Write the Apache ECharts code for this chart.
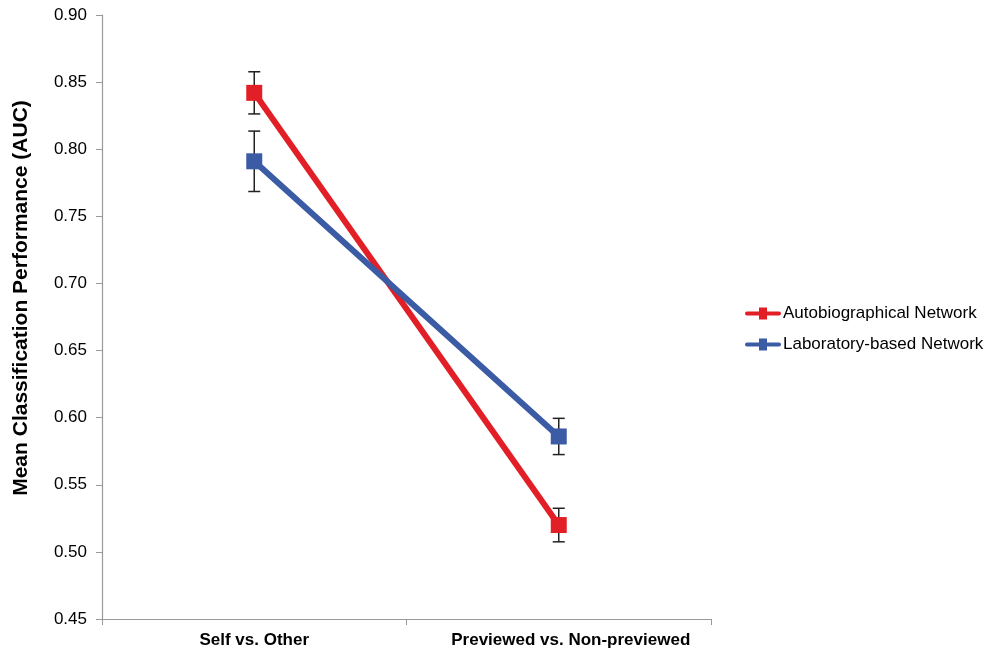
<!DOCTYPE html>
<html><head><meta charset="utf-8">
<script src="https://cdn.jsdelivr.net/npm/echarts@6/dist/echarts.min.js"></script>
<style>html,body{margin:0;padding:0;background:#fff}#c{width:990px;height:652px}</style>
</head><body><div id="c"></div>
<script>
const categories = ['Self vs. Other', 'Previewed vs. Non-previewed'];
const autoValues = [0.842, 0.520];
const autoErr = [0.0157, 0.0125];
const labValues = [0.791, 0.586];
const labErr = [0.0225, 0.0135];
const yTicks = [0.45, 0.90, 0.05];

const chart = echarts.init(document.getElementById('c'));
const font = '"Liberation Sans", Arial, Helvetica, sans-serif';
const RED = '#e21f26', BLUE = '#3b5ba5';
function errSeries(vals, errs) {
  return {
    type: 'custom', silent: true, z: 1,
    data: vals.map((v, i) => [i, v - errs[i], v + errs[i]]),
    renderItem: function (params, api) {
      const lo = api.coord([api.value(0), api.value(1)]);
      const hi = api.coord([api.value(0), api.value(2)]);
      const w = 6;
      const st = { stroke: '#222', lineWidth: 1.5 };
      return { type: 'group', children: [
        { type: 'line', shape: { x1: lo[0], y1: lo[1], x2: hi[0], y2: hi[1] }, style: st },
        { type: 'line', shape: { x1: lo[0] - w, y1: lo[1], x2: lo[0] + w, y2: lo[1] }, style: st },
        { type: 'line', shape: { x1: hi[0] - w, y1: hi[1], x2: hi[0] + w, y2: hi[1] }, style: st }
      ]};
    }
  };
}
function legendIcon() {
  return 'path://M2,5 L14,5 L14,1 L22,1 L22,5 L34,5 A2,2 0 0 1 34,9 L22,9 L22,13 L14,13 L14,9 L2,9 A2,2 0 0 1 2,5 Z';
}
const catData = categories.map((c, i) => i === 1 ? { value: c, textStyle: { padding: [0, 0, 0, 24] } } : c);
chart.setOption({
  animation: false,
  backgroundColor: '#fff',
  grid: { left: 102, right: 279, top: 15, bottom: 33, containLabel: false },
  legend: {
    orient: 'vertical', left: 740, top: 300, itemGap: 14, itemWidth: 36, itemHeight: 14,
    textStyle: { fontFamily: font, fontSize: 17, color: '#000', padding: [0, 0, 0, -3] },
    data: [
      { name: 'Autobiographical Network', icon: legendIcon(), itemStyle: { color: RED } },
      { name: 'Laboratory-based Network', icon: legendIcon(), itemStyle: { color: BLUE } }
    ]
  },
  xAxis: {
    type: 'category', data: catData, boundaryGap: true,
    axisLine: { lineStyle: { color: '#999', width: 1.2 } },
    axisTick: { show: true, length: 6, interval: 0, lineStyle: { color: '#999' } },
    axisLabel: { interval: 0, hideOverlap: false, fontFamily: font, fontSize: 17, fontWeight: 'bold', color: '#000', margin: 13 }
  },
  yAxis: {
    type: 'value', min: yTicks[0], max: yTicks[1], interval: yTicks[2],
    name: 'Mean Classification Performance (AUC)', nameLocation: 'middle', nameGap: 70,
    nameTextStyle: { fontFamily: font, fontSize: 21, fontWeight: 'bold', color: '#000', padding: [0, 0, 0, 38] },
    axisLine: { show: true, lineStyle: { color: '#999', width: 1.2 } },
    axisTick: { show: true, length: 6, lineStyle: { color: '#999' } },
    splitLine: { show: false },
    axisLabel: { fontFamily: font, fontSize: 17, color: '#000', margin: 15, formatter: v => v.toFixed(2) }
  },
  series: [
    errSeries(autoValues, autoErr),
    errSeries(labValues, labErr),
    { name: 'Autobiographical Network', type: 'line', data: autoValues, z: 3,
      symbol: 'rect', symbolSize: 16, lineStyle: { width: 6, color: RED },
      itemStyle: { color: RED } },
    { name: 'Laboratory-based Network', type: 'line', data: labValues, z: 4,
      symbol: 'rect', symbolSize: 16, lineStyle: { width: 6, color: BLUE },
      itemStyle: { color: BLUE } }
  ]
});
</script></body></html>
